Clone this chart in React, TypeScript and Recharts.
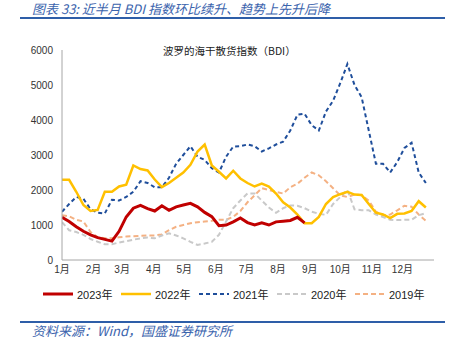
import React from "react";
import { LineChart, Line, XAxis, YAxis } from "recharts";

// weekly readings of the BDI, one value per week from 1 Jan
const monthLabels = ["1月", "2月", "3月", "4月", "5月", "6月", "7月", "8月", "9月", "10月", "11月", "12月"];
const monthStartDays = [0, 31, 59, 90, 120, 151, 181, 212, 243, 273, 304, 334];
const yTicks = [0, 1000, 2000, 3000, 4000, 5000, 6000];

const bdi2023 = [
  1220, 1100, 950, 820, 720, 640, 590, 540, 820, 1230, 1480, 1560, 1470, 1400, 1550, 1420, 1520, 1570,
  1620, 1520, 1360, 1240, 980, 1000, 1090, 1200, 1070, 1000, 1060, 1000, 1090, 1110, 1130, 1220, 1060,
];
const bdi2022 = [
  2290, 2290, 1950, 1570, 1400, 1430, 1950, 1950, 2100, 2150, 2700, 2600, 2560, 2300, 2080, 2200, 2350,
  2500, 2720, 3100, 3300, 2700, 2520, 2330, 2550, 2330, 2200, 2100, 2180, 2100, 1900, 1650, 1500, 1300,
  1050, 1050, 1230, 1600, 1800, 1880, 1950, 1870, 1860, 1600, 1350, 1300, 1200, 1320, 1330, 1400, 1680, 1500,
];
const bdi2021 = [
  1380, 1600, 1800, 1750, 1450, 1350, 1330, 1720, 1700, 1800, 1950, 2250, 2200, 2080, 2080, 2350, 2750,
  3000, 3250, 2950, 2860, 2620, 2500, 2950, 3240, 3250, 3300, 3250, 3100, 3190, 3300, 3380, 3700, 4150,
  4180, 3850, 3700, 4240, 4550, 5050, 5600, 5000, 4650, 3700, 2750, 2750, 2500, 2800, 3200, 3350, 2500, 2200,
];
const bdi2020 = [
  1080, 850, 800, 720, 600, 520, 450, 450, 500, 540, 580, 620, 640, 620, 700, 760, 700, 620, 520, 430,
  470, 520, 720, 1100, 1480, 1700, 1900, 1900, 1700, 1500, 1350, 1480, 1560, 1550, 1480, 1380, 1320,
  1290, 1600, 1800, 2000, 1450, 1420, 1420, 1300, 1230, 1150, 1140, 1150, 1150, 1280, 1340,
];
const bdi2019 = [
  1280, 1250, 1150, 1100, 800, 650, 620, 620, 650, 670, 680, 690, 700, 700, 730, 850, 950, 1000, 1050,
  1080, 1100, 1120, 1150, 1150, 1230, 1400, 1650, 1850, 2050, 2000, 1950, 1900, 2080, 2180, 2350, 2500,
  2420, 2250, 2050, 1850, 1800, 1870, 1850, 1700, 1380, 1280, 1300, 1420, 1550, 1520, 1300, 1120,
];

const toPoints = (values: number[]) => values.map((v, i) => ({ day: i * 7, v }));

const series = [
  { name: "2019年", values: bdi2019, color: "#F4B183", width: 2, dash: "5 3" },
  { name: "2020年", values: bdi2020, color: "#C9C9C9", width: 2, dash: "5 3" },
  { name: "2021年", values: bdi2021, color: "#1F4E9B", width: 2, dash: "4 3" },
  { name: "2022年", values: bdi2022, color: "#FFC000", width: 2.5, dash: undefined },
  { name: "2023年", values: bdi2023, color: "#C00000", width: 3, dash: undefined },
];

const cjk = '"Noto Sans CJK SC", sans-serif';
const num = '"Liberation Sans", Arial, "Noto Sans CJK SC", sans-serif';

export default function App() {
  const legendItems = [...series].reverse();
  return (
    <div style={{ position: "absolute", left: 0, top: 0, width: 455, height: 352, background: "#fff", overflow: "hidden" }}>
      <div
        style={{
          position: "absolute", left: 32, top: 2, lineHeight: "13px", fontSize: 13,
          fontStyle: "italic", color: "#3B64AD", fontFamily: cjk, whiteSpace: "nowrap",
        }}
      >
        图表 33: 近半月 BDI 指数环比续升、趋势上先升后降
      </div>
      <div style={{ position: "absolute", left: 20, top: 17, width: 425, height: 2, background: "#2E5EA8" }} />

      <div style={{ position: "absolute", left: 0, top: 0 }}>
        <LineChart width={455} height={352} margin={{ top: 50, right: 21, bottom: 62, left: 0 }}>
          <XAxis
            dataKey="day"
            type="number"
            domain={[0, 365]}
            ticks={monthStartDays}
            tickFormatter={(d: number) => monthLabels[monthStartDays.indexOf(d)]}
            height={30}
            stroke="#A6A6A6"
            tickLine={false}
            tickSize={4}
            tick={{ fill: "#333", fontSize: 10, fontFamily: num }}
            allowDataOverflow
          />
          <YAxis
            type="number"
            domain={[0, 6000]}
            ticks={yTicks}
            width={62}
            stroke="#A6A6A6"
            tickLine={false}
            tickSize={7}
            tick={{ fill: "#333", fontSize: 10, fontFamily: num }}
          />
          {series.map((s) => (
            <Line
              key={s.name}
              data={toPoints(s.values)}
              dataKey="v"
              name={s.name}
              type="linear"
              stroke={s.color}
              strokeWidth={s.width}
              strokeDasharray={s.dash}
              dot={false}
              activeDot={false}
              isAnimationActive={false}
            />
          ))}
        </LineChart>
      </div>

      <div
        style={{
          position: "absolute", left: 163, top: 43, fontSize: 10.5, lineHeight: "16px",
          color: "#222", fontFamily: cjk, whiteSpace: "nowrap",
        }}
      >
        波罗的海干散货指数（BDI）
      </div>

      <div style={{ position: "absolute", left: 43, top: 286, display: "flex" }}>
        {legendItems.map((s) => (
          <div key={s.name} style={{ width: 78, display: "flex", alignItems: "center", height: 16 }}>
            <svg width={31} height={8} style={{ marginRight: 3 }}>
              <line x1={0} y1={4} x2={30} y2={4} stroke={s.color} strokeWidth={s.width} strokeDasharray={s.dash} />
            </svg>
            <span style={{ fontSize: 11, color: "#222", fontFamily: num, whiteSpace: "nowrap" }}>{s.name}</span>
          </div>
        ))}
      </div>

      <div style={{ position: "absolute", left: 20, top: 321, width: 425, height: 2, background: "#2E5EA8" }} />
      <div
        style={{
          position: "absolute", left: 32, top: 322, lineHeight: "18px", fontSize: 13,
          fontStyle: "italic", color: "#3B64AD", fontFamily: cjk, whiteSpace: "nowrap",
        }}
      >
        资料来源：Wind，国盛证券研究所
      </div>
    </div>
  );
}
